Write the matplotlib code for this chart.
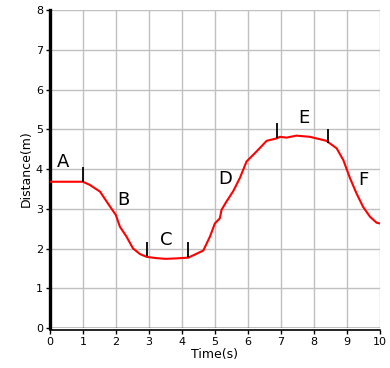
import matplotlib
matplotlib.use("Agg")
from matplotlib import pyplot as plt

# distance-time curve
time_s = [0, 0.5, 1.0, 1.21, 1.52, 1.72, 2.0, 2.12, 2.32, 2.52, 2.73, 2.93,
          3.2, 3.5, 3.8, 4.19, 4.4, 4.65, 4.85, 5.0, 5.15, 5.2, 5.35, 5.56,
          5.76, 5.96, 6.26, 6.57, 6.87, 6.97, 7.17, 7.47, 7.88, 8.38, 8.69,
          8.89, 9.09, 9.29, 9.49, 9.70, 9.90, 10.0]
dist_m = [3.68, 3.68, 3.68, 3.6, 3.43, 3.18, 2.84, 2.55, 2.30, 2.0, 1.86, 1.79,
          1.76, 1.74, 1.75, 1.77, 1.85, 1.95, 2.30, 2.63, 2.76, 2.97, 3.18, 3.45,
          3.78, 4.19, 4.44, 4.71, 4.77, 4.81, 4.79, 4.84, 4.81, 4.71, 4.52,
          4.23, 3.78, 3.39, 3.05, 2.80, 2.65, 2.63]

# segment boundary markers (x, y bottom, y top)
mark_x = [1.0, 2.93, 4.19, 6.89, 8.43]
mark_lo = [3.68, 1.80, 1.79, 4.79, 4.66]
mark_hi = [4.05, 2.17, 2.17, 5.17, 5.0]

seg_labels = ["A", "B", "C", "D", "E", "F"]
seg_x = [0.40, 2.24, 3.54, 5.30, 7.70, 9.50]
seg_y = [4.18, 3.22, 2.21, 3.75, 5.28, 3.72]

fig = plt.figure(figsize=(3.9, 3.68), dpi=100)
ax = fig.add_axes([0.128, 0.1087, 0.846, 0.864])

ax.plot(time_s, dist_m, color="red", lw=1.5, zorder=3)
ax.vlines(mark_x, mark_lo, mark_hi, color="black", lw=1.3, zorder=4)
for lab, x, y in zip(seg_labels, seg_x, seg_y):
    ax.text(x, y, lab, fontsize=13, ha="center", va="center")

ax.set_xlim(0, 10)
ax.set_ylim(0, 8)
ax.set_xticks(range(0, 11))
ax.set_yticks(range(0, 9))
ax.grid(True, color="#c0c0c0", lw=1)
ax.set_axisbelow(True)
ax.axhline(0, color="black", lw=1, zorder=2)

for s in ["top", "right"]:
    ax.spines[s].set_visible(False)
ax.spines["left"].set_linewidth(2.4)
ax.spines["bottom"].set_linewidth(1.2)
ax.spines["bottom"].set_position(("outward", 1.5))
ax.tick_params(axis="both", labelsize=8, length=3, width=1, pad=2)

ax.set_xlabel("Time(s)", fontsize=9, labelpad=1)
ax.set_ylabel("Distance(m)", fontsize=9, labelpad=2)

fig.savefig("out.png", dpi=100)
